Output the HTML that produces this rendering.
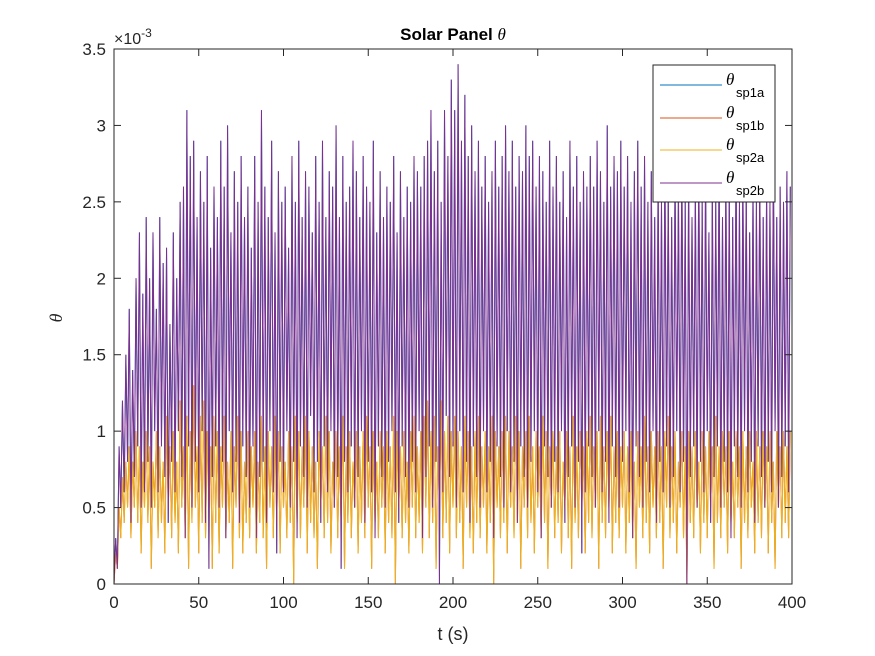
<!DOCTYPE html>
<html><head><meta charset="utf-8">
<style>
html,body{margin:0;padding:0;background:#fff;}
svg{display:block;font-family:"Liberation Sans",sans-serif;}
</style></head>
<body>
<svg id="chart" width="875" height="656" viewBox="0 0 875 656">
  <rect x="0" y="0" width="875" height="656" fill="#fff"/>
  <rect x="114" y="49" width="678" height="535" fill="#fff"/>
  <g id="series"></g>
  <g id="axes"></g>
  <text x="453" y="40" text-anchor="middle" font-size="17" font-weight="bold" fill="#000">Solar Panel <tspan font-family="Liberation Serif" font-style="italic" font-weight="normal">θ</tspan></text>
  <text x="453" y="640" text-anchor="middle" font-size="18" fill="#262626">t (s)</text>
  <text x="62" y="318" text-anchor="middle" font-size="18" font-family="Liberation Serif" font-style="italic" fill="#262626" transform="rotate(-90 62 318)">θ</text>
  <text x="114" y="44" font-size="16" fill="#262626">×10<tspan dy="-7" font-size="12">-3</tspan></text>
  <g>
    <rect x="653" y="65" width="122" height="137" fill="#fff" stroke="#262626" stroke-width="1"/>
    <g>
      <line x1="660" y1="85" x2="722" y2="85" stroke="#0072BD" stroke-width="1"/>
      <text x="726" y="85" font-size="17" font-family="Liberation Serif" font-style="italic" fill="#000">θ</text><text x="736" y="97" font-size="13" fill="#000">sp1a</text>
    </g>
    <g>
      <line x1="660" y1="118" x2="722" y2="118" stroke="#D95319" stroke-width="1"/>
      <text x="726" y="118" font-size="17" font-family="Liberation Serif" font-style="italic" fill="#000">θ</text><text x="736" y="130" font-size="13" fill="#000">sp1b</text>
    </g>
    <g>
      <line x1="660" y1="150" x2="722" y2="150" stroke="#EDB120" stroke-width="1"/>
      <text x="726" y="150" font-size="17" font-family="Liberation Serif" font-style="italic" fill="#000">θ</text><text x="736" y="162" font-size="13" fill="#000">sp2a</text>
    </g>
    <g>
      <line x1="660" y1="183" x2="722" y2="183" stroke="#7E2F8E" stroke-width="1"/>
      <text x="726" y="183" font-size="17" font-family="Liberation Serif" font-style="italic" fill="#000">θ</text><text x="736" y="195" font-size="13" fill="#000">sp2b</text>
    </g>
  </g>
</svg>
<script>
const xTicks = [0,50,100,150,200,250,300,350,400];
const yTicks = [0,0.5,1,1.5,2,2.5,3,3.5];
const yTickLabels = ["0","0.5","1","1.5","2","2.5","3","3.5"];
// purple (sp2b / sp1a) peaks at odd seconds, troughs at even seconds (units 1e-3)
const purplePeaks = [
0.3,0.9,1.2,1.5,1.8,1.4,2.0,2.3,1.9,2.4,
2.0,2.3,1.8,2.4,2.1,2.2,1.7,2.3,2.0,2.5,
2.6,3.1,2.8,2.9,2.4,2.7,2.5,2.8,2.2,2.6,
2.4,2.9,2.6,3.0,2.3,2.7,2.5,2.8,2.4,2.6,
2.2,2.8,2.5,3.1,2.6,2.4,2.9,2.3,2.7,2.5,
2.6,2.2,2.8,2.5,2.9,2.4,2.7,2.6,2.3,2.8,
2.5,2.9,2.4,2.7,2.6,3.0,2.4,2.8,2.5,2.6,
2.9,2.7,2.4,2.8,2.6,2.5,2.9,2.3,2.7,2.4,
2.6,2.5,2.8,2.3,2.7,2.4,2.6,2.5,2.8,2.7,
2.6,2.8,2.9,3.1,2.7,2.9,2.5,3.1,2.8,3.3,
3.1,3.4,2.9,3.2,2.8,3.0,2.7,2.9,2.6,2.8,
2.5,2.7,2.9,2.6,2.8,3.0,2.7,2.9,2.6,2.8,
2.7,3.0,2.8,2.9,2.6,2.8,2.7,2.5,2.9,2.6,
2.8,2.5,2.7,2.4,2.9,2.6,2.8,2.5,2.7,2.6,
2.8,2.6,2.9,2.7,2.5,3.0,2.6,2.8,2.7,2.9,
2.6,2.8,2.5,2.7,2.9,2.6,2.8,2.5,2.7,2.4,
2.7,2.5,2.8,2.6,2.4,2.7,2.6,2.8,2.5,2.7,
2.4,2.6,2.8,2.5,2.7,2.3,2.6,2.5,2.8,2.4,
2.7,2.6,2.4,2.8,2.5,2.7,2.6,2.3,2.6,2.5,
2.7,2.4,2.6,2.5,2.8,2.4,2.6,2.5,2.7,2.6];
const purpleTroughs = [
0.0,0.1,0.5,0.6,0.8,0.4,0.7,0.9,0.5,0.6,
0.8,0.5,1.0,0.6,0.9,0.7,0.4,0.8,0.6,1.0,
0.7,0.3,0.9,0.5,0.8,0.6,1.0,0.4,0.1,0.7,
0.9,0.5,0.8,0.3,1.0,0.6,0.8,0.4,0.9,0.7,
0.5,0.9,0.3,0.7,0.8,0.4,1.0,0.6,0.2,0.8,
0.6,1.0,0.5,0.8,0.3,0.9,0.7,0.5,1.1,0.6,
0.8,0.4,0.9,0.6,1.0,0.5,0.7,0.1,0.8,0.6,
0.9,0.5,0.7,1.0,0.4,0.8,0.6,0.3,0.9,0.7,
0.5,0.8,1.0,0.6,0.4,0.9,0.7,0.5,0.8,0.6,
1.0,0.3,0.7,0.9,0.5,0.8,0.0,0.6,1.1,0.7,
0.9,0.5,1.0,0.6,0.8,0.4,0.9,0.7,0.5,1.0,
0.6,0.8,0.3,0.9,0.7,0.5,1.0,0.6,0.8,0.4,
0.9,0.7,0.5,0.8,1.0,0.6,0.3,0.9,0.7,0.5,
0.8,0.6,1.0,0.4,0.7,0.9,0.5,0.8,0.2,0.6,
0.9,0.7,0.5,1.0,0.6,0.8,0.4,0.9,0.7,0.5,
0.8,1.0,0.6,0.3,0.9,0.7,0.5,0.8,0.6,1.0,
0.4,0.8,0.6,0.9,0.5,0.7,1.0,0.6,0.8,0.0,
0.7,0.9,0.5,0.8,0.6,1.0,0.4,0.7,0.9,0.5,
0.8,0.6,0.3,0.9,0.7,0.5,1.0,0.6,0.8,0.4,
0.9,0.7,0.5,0.8,0.6,1.0,0.5,0.7,0.9,0.6];
// yellow (sp2a / sp1b)
const yellowPeaks = [
0.2,0.5,0.7,0.8,0.9,0.8,1.0,0.9,0.8,1.0,
0.9,0.8,1.0,0.9,0.8,1.1,0.9,1.0,0.8,1.2,
0.9,1.1,1.0,1.3,0.9,1.1,1.2,1.0,0.9,1.1,
1.0,0.9,1.1,0.8,1.0,0.9,1.1,1.0,0.8,1.0,
0.9,1.0,0.8,1.1,0.9,1.0,0.9,1.1,1.0,0.9,
0.8,1.0,0.9,1.1,1.0,0.9,1.1,1.0,0.9,0.8,
1.0,0.9,1.1,1.0,0.8,1.0,0.9,1.1,0.9,1.0,
0.8,1.0,0.9,1.0,1.1,0.9,1.0,0.8,1.0,0.9,
1.0,0.9,1.1,1.0,0.9,1.0,0.8,1.0,1.1,0.9,
1.0,1.1,1.2,1.0,1.1,0.9,1.2,1.0,1.1,1.0,
1.1,1.0,0.9,1.1,1.0,0.9,1.0,1.1,0.9,1.0,
0.9,1.1,1.0,0.9,1.0,1.1,1.0,0.9,1.1,1.0,
0.9,1.0,1.1,0.9,1.0,0.9,1.1,1.0,0.9,1.0,
0.9,1.0,0.8,1.0,0.9,1.1,0.9,1.0,0.9,1.0,
1.1,0.9,1.0,1.1,0.9,1.0,1.1,0.9,1.0,0.9,
1.0,0.9,1.0,0.8,1.0,0.9,1.1,0.9,1.0,0.9,
1.0,0.9,1.0,1.1,0.9,1.0,0.8,1.0,0.9,1.0,
0.9,1.0,0.8,1.0,0.9,1.0,0.9,1.1,0.9,1.0,
0.9,1.0,0.8,1.0,0.9,1.0,0.9,1.0,0.8,1.0,
0.9,1.0,0.9,1.0,0.8,1.0,0.9,1.0,0.9,1.0];
const yellowTroughs = [
0.0,0.1,0.3,0.4,0.5,0.3,0.5,0.4,0.2,0.5,
0.4,0.1,0.5,0.3,0.4,0.2,0.5,0.3,0.4,0.2,
0.5,0.3,0.1,0.4,0.5,0.2,0.4,0.3,0.5,0.1,
0.4,0.2,0.5,0.3,0.4,0.1,0.5,0.3,0.2,0.4,
0.3,0.5,0.2,0.4,0.3,0.1,0.5,0.3,0.4,0.2,
0.5,0.3,0.4,0.0,0.4,0.3,0.5,0.2,0.4,0.3,
0.1,0.5,0.3,0.4,0.2,0.5,0.3,0.4,0.1,0.4,
0.3,0.5,0.2,0.4,0.3,0.5,0.1,0.4,0.3,0.5,
0.2,0.4,0.3,0.0,0.5,0.3,0.4,0.2,0.5,0.3,
0.4,0.2,0.5,0.3,0.4,0.1,0.5,0.3,0.4,0.2,
0.5,0.3,0.4,0.1,0.5,0.3,0.2,0.4,0.3,0.5,
0.2,0.4,0.0,0.5,0.3,0.4,0.2,0.5,0.3,0.4,
0.1,0.5,0.3,0.4,0.2,0.5,0.3,0.4,0.1,0.5,
0.3,0.4,0.2,0.5,0.3,0.1,0.4,0.3,0.5,0.2,
0.4,0.3,0.5,0.1,0.4,0.3,0.5,0.2,0.4,0.3,
0.5,0.2,0.4,0.3,0.1,0.5,0.3,0.4,0.2,0.5,
0.3,0.4,0.1,0.5,0.3,0.4,0.2,0.5,0.3,0.0,
0.4,0.3,0.5,0.2,0.4,0.3,0.5,0.1,0.4,0.3,
0.5,0.2,0.4,0.3,0.5,0.1,0.4,0.3,0.5,0.2,
0.4,0.3,0.5,0.2,0.4,0.1,0.5,0.3,0.4,0.3];

const X0=114, X1=792, Y0=584, Y1=49;
function xs(t){return X0+(t/400)*(X1-X0);}
function ys(v){return Y0-(v/3.5)*(Y0-Y1);}
const NS="http://www.w3.org/2000/svg";
function buildPath(peaks, troughs){
  let d="";
  for(let i=0;i<troughs.length;i++){
    const t0=2*i, t1=2*i+1;
    d+=(i===0?"M":"L")+xs(t0).toFixed(2)+","+ys(troughs[i]).toFixed(2);
    if(i<peaks.length) d+="L"+xs(t1).toFixed(2)+","+ys(peaks[i]).toFixed(2);
  }
  return d;
}
const sg=document.getElementById("series");
function addLine(name,d,color){
  const p=document.createElementNS(NS,"path");
  p.setAttribute("d",d);p.setAttribute("fill","none");
  p.setAttribute("stroke",color);p.setAttribute("stroke-width","1");
  
  
  sg.appendChild(p);
}
addLine("line-sp1a",buildPath(purplePeaks,purpleTroughs),"#0072BD");
addLine("line-sp1b",buildPath(yellowPeaks,yellowTroughs),"#D95319");
addLine("line-sp2a",buildPath(yellowPeaks,yellowTroughs),"#EDB120");
addLine("line-sp2b",buildPath(purplePeaks,purpleTroughs),"#7E2F8E");

const ag=document.getElementById("axes");
const frame=document.createElementNS(NS,"rect");
frame.setAttribute("x",X0);frame.setAttribute("y",Y1);
frame.setAttribute("width",X1-X0);frame.setAttribute("height",Y0-Y1);
frame.setAttribute("fill","none");frame.setAttribute("stroke","#262626");frame.setAttribute("stroke-width","1");


ag.appendChild(frame);
xTicks.forEach(t=>{
  const x=xs(t);
  [[Y0,Y0-7],[Y1,Y1+7]].forEach(([a,b])=>{
    const l=document.createElementNS(NS,"line");
    l.setAttribute("x1",x);l.setAttribute("x2",x);l.setAttribute("y1",a);l.setAttribute("y2",b);
    l.setAttribute("stroke","#262626");
    
    
    ag.appendChild(l);
  });
  const tx=document.createElementNS(NS,"text");
  tx.setAttribute("x",x);tx.setAttribute("y",Y0+24);tx.setAttribute("text-anchor","middle");
  tx.setAttribute("font-size","17");tx.setAttribute("fill","#262626");
  tx.textContent=String(t);
  
  
  ag.appendChild(tx);
});
yTicks.forEach((v,i)=>{
  const y=ys(v);
  [[X0,X0+7],[X1,X1-7]].forEach(([a,b])=>{
    const l=document.createElementNS(NS,"line");
    l.setAttribute("x1",a);l.setAttribute("x2",b);l.setAttribute("y1",y);l.setAttribute("y2",y);
    l.setAttribute("stroke","#262626");
    
    
    ag.appendChild(l);
  });
  const tx=document.createElementNS(NS,"text");
  tx.setAttribute("x",X0-8);tx.setAttribute("y",y+6);tx.setAttribute("text-anchor","end");
  tx.setAttribute("font-size","17");tx.setAttribute("fill","#262626");
  tx.textContent=yTickLabels[i];
  
  
  ag.appendChild(tx);
});
</script>
</body></html>
